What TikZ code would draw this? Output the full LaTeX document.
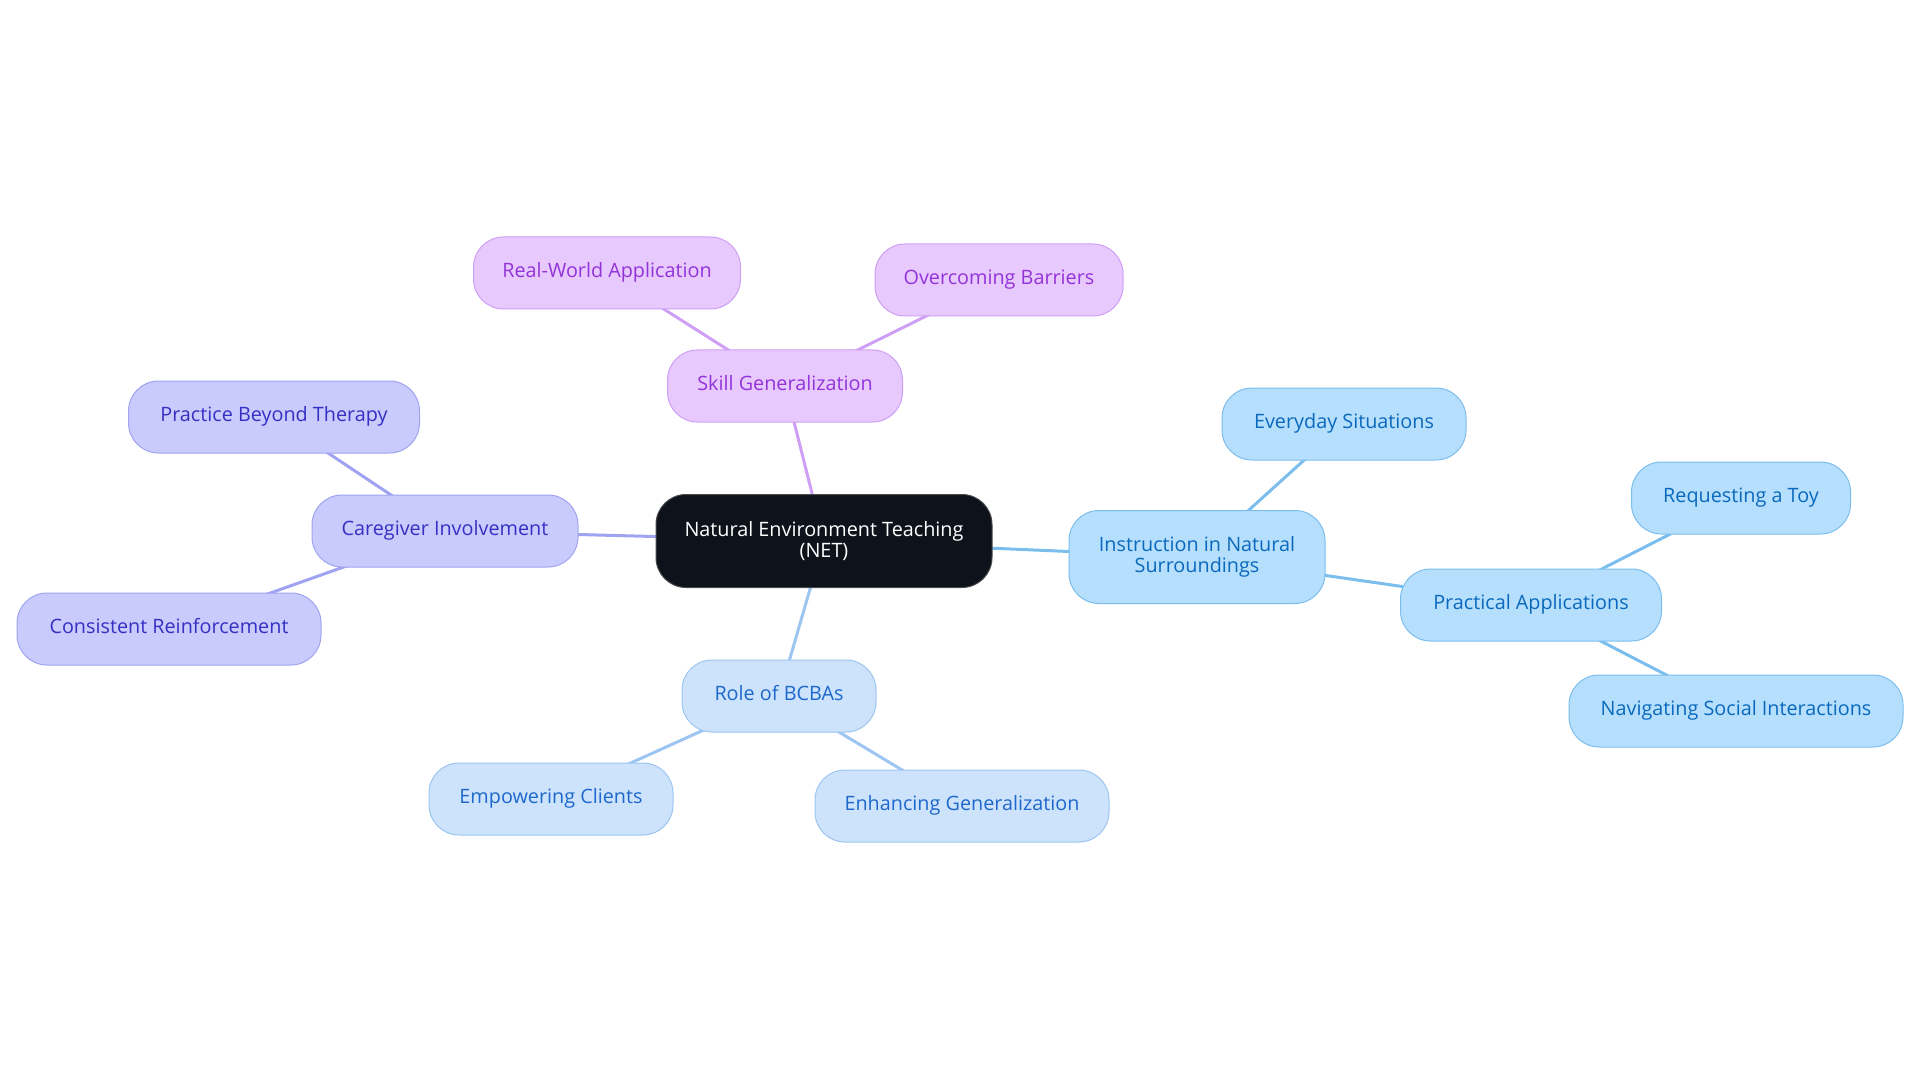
\documentclass[tikz,border=0pt]{standalone}
\usepackage{fontspec}
\setmainfont{Open Sans}
\usetikzlibrary{backgrounds}
\definecolor{purF}{HTML}{E7C9FD}
\definecolor{purD}{HTML}{CF9FF6}
\definecolor{purT}{HTML}{9333DA}
\definecolor{indF}{HTML}{C8CBFB}
\definecolor{indD}{HTML}{9FA3F1}
\definecolor{indT}{HTML}{3530C4}
\definecolor{lbF}{HTML}{CDE3FB}
\definecolor{lbD}{HTML}{9DC5F1}
\definecolor{lbT}{HTML}{1E68CC}
\definecolor{skF}{HTML}{B5DFFC}
\definecolor{skD}{HTML}{7BBEEE}
\definecolor{skT}{HTML}{0A69BD}
\definecolor{ctrF}{HTML}{0D121B}
\tikzset{
  x=1pt,y=-1pt,
  box/.style={rectangle, rounded corners=30pt, inner sep=0pt, minimum height=72pt, line width=1pt, align=center, text height=15pt, text depth=5.6pt, font=\fontsize{19.8}{21}\selectfont},
  twoline/.style={text height=, text depth=},
  pur/.style={box, fill=purF, draw=purD, text=purT},
  ind/.style={box, fill=indF, draw=indD, text=indT},
  lb/.style={box, fill=lbF, draw=lbD, text=lbT},
  sk/.style={box, fill=skF, draw=skD, text=skT},
  ctr/.style={box, twoline, fill=ctrF, draw=gray!60!black, text=white, minimum height=93pt},
  edge/.style={line width=3pt},
}
\begin{document}
\begin{tikzpicture}
\useasboundingbox (0,0) rectangle (1920,1083);
\node[ctr, minimum width=336pt] (net) at (824,541) {Natural Environment Teaching\\(NET)};
\node[pur, minimum width=235pt] (skill) at (785,386) {Skill Generalization};
\node[pur, minimum width=267pt] (real) at (607,273) {Real-World Application};
\node[pur, minimum width=248pt] (over) at (999,280) {Overcoming Barriers};
\node[ind, minimum width=266pt] (care) at (445,531) {Caregiver Involvement};
\node[ind, minimum width=291pt] (prac) at (274,417) {Practice Beyond Therapy};
\node[ind, minimum width=304pt] (cons) at (169,629) {Consistent Reinforcement};
\node[sk, twoline, minimum width=256pt, minimum height=93pt] (inst) at (1197,557) {Instruction in Natural\\Surroundings};
\node[sk, minimum width=244pt] (every) at (1344,424) {Everyday Situations};
\node[sk, minimum width=261pt] (papp) at (1531,605) {Practical Applications};
\node[sk, minimum width=219pt] (req) at (1741,498) {Requesting a Toy};
\node[sk, minimum width=334pt] (nav) at (1736,711) {Navigating Social Interactions};
\node[lb, minimum width=194pt] (role) at (779,696) {Role of BCBAs};
\node[lb, minimum width=244pt] (emp) at (551,799) {Empowering Clients};
\node[lb, minimum width=294pt] (enh) at (962,806) {Enhancing Generalization};
\begin{scope}[on background layer]
\draw[edge, draw=purD] (net.center) -- (skill.center);
\draw[edge, draw=purD] (skill.center) -- (real.center);
\draw[edge, draw=purD] (skill.center) -- (over.center);
\draw[edge, draw=indD] (net.center) -- (care.center);
\draw[edge, draw=indD] (care.center) -- (prac.center);
\draw[edge, draw=indD] (care.center) -- (cons.center);
\draw[edge, draw=skD] (net.center) -- (inst.center);
\draw[edge, draw=skD] (inst.center) -- (every.center);
\draw[edge, draw=skD] (inst.center) -- (papp.center);
\draw[edge, draw=skD] (papp.center) -- (req.center);
\draw[edge, draw=skD] (papp.center) -- (nav.center);
\draw[edge, draw=lbD] (net.center) -- (role.center);
\draw[edge, draw=lbD] (role.center) -- (emp.center);
\draw[edge, draw=lbD] (role.center) -- (enh.center);
\end{scope}
\end{tikzpicture}
\end{document}
